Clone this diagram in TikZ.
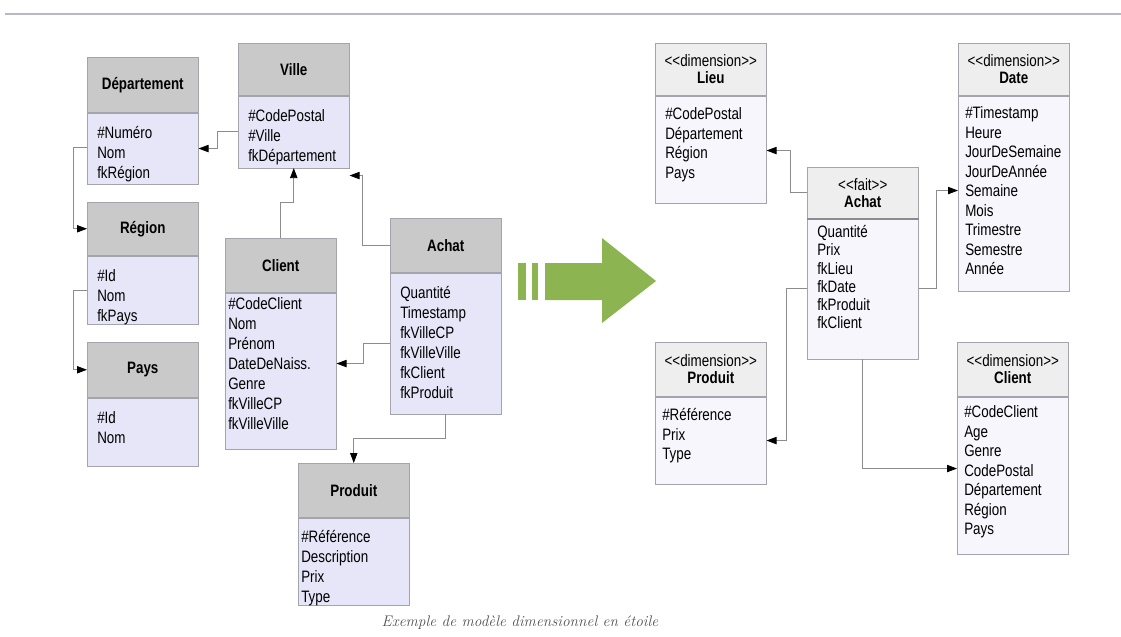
\documentclass[tikz,border=0pt]{standalone}
\usepackage{fontspec}
\newfontfamily\arialn{Liberation Sans}[FakeStretch=0.81]
\usepackage{tikz}
\usetikzlibrary{positioning,arrows.meta,calc}
\newdimen\pxu \pxu=0.75pt
\definecolor{headgray}{HTML}{C9C9C9}
\definecolor{lavbody}{HTML}{E6E6F8}
\definecolor{dimhead}{HTML}{EEEEEE}
\definecolor{dimbody}{HTML}{F6F6FC}
\definecolor{edgegray}{HTML}{A4A4AC}
\definecolor{linkgray}{HTML}{8C8C8C}
\definecolor{leaf}{HTML}{8CB450}
\definecolor{rulegray}{HTML}{B8B8C8}
\definecolor{capgray}{HTML}{505050}
\newcommand\hdfont{\arialn\bfseries\fontsize{12.4}{14}\selectfont}
\newcommand\fldfont{\arialn\fontsize{12.4}{15}\selectfont}
\newcommand\dimfont{\arialn\fontsize{12.4}{12.5}\selectfont}
\newcommand\stereo[1]{<\kern0pt<#1>\kern0pt>}
\tikzset{
  hd/.style={draw=edgegray, fill=headgray, minimum width=111\pxu, anchor=north west, inner sep=0pt, font=\hdfont},
  bd/.style={draw=edgegray, fill=lavbody, align=left, inner ysep=0pt, inner xsep=10\pxu, text width=91\pxu, font=\fldfont},
  tight/.style={inner xsep=3\pxu, text width=105\pxu},
  dimhd/.style={hd, fill=dimhead, align=center, font=\dimfont},
  dimbd/.style={bd, fill=dimbody, inner xsep=7\pxu, text width=97\pxu, font=\arialn\fontsize{12.4}{14.6}\selectfont},
  link/.style={draw=linkgray, line width=0.6pt, -{Triangle[length=7.5pt,width=5.5pt,color=black]}},
}
\begin{document}
\begin{tikzpicture}[x=0.75pt, y=-0.75pt]
  \useasboundingbox (0,0) rectangle (1121,636);
  \draw[rulegray, line width=1.5pt] (5,14) -- (1121,14);
  % relational model
  \node[hd, minimum height=55\pxu] (dephd) at (87,57) {Département};
  \node[bd, below=0pt of dephd, text height=26\pxu, text depth=45\pxu] (dep) {\#Numéro\\Nom\\fkRégion};
  \node[hd, minimum height=52\pxu] (villehd) at (238,43) {Ville};
  \node[bd, below=0pt of villehd, text height=26\pxu, text depth=46\pxu] (ville) {\#CodePostal\\\#Ville\\fkDépartement};
  \node[hd, minimum height=53\pxu] (reghd) at (87,202) {Région};
  \node[bd, below=0pt of reghd, text height=26\pxu, text depth=42\pxu] (reg) {\#Id\\Nom\\fkPays};
  \node[hd, minimum height=55\pxu] (payshd) at (87,342) {Pays};
  \node[bd, below=0pt of payshd, text height=26\pxu, text depth=42\pxu] (pays) {\#Id\\Nom};
  \node[hd, minimum height=54\pxu] (clihd) at (225,238) {Client};
  \node[bd, tight, below=0pt of clihd, text height=17\pxu, text depth=139\pxu] (cli) {\#CodeClient\\Nom\\Prénom\\DateDeNaiss.\\Genre\\fkVilleCP\\fkVilleVille};
  \node[hd, minimum height=54\pxu] (achhd) at (390,218) {Achat};
  \node[bd, below=0pt of achhd, text height=26\pxu, text depth=115\pxu] (ach) {Quantité\\Timestamp\\fkVilleCP\\fkVilleVille\\fkClient\\fkProduit};
  \node[hd, minimum height=54\pxu] (prohd) at (298,463) {Produit};
  \node[bd, tight, below=0pt of prohd, text height=25\pxu, text depth=62\pxu] (pro) {\#Référence\\Description\\Prix\\Type};
  \draw[link] ($(ville.north west)+(0,36)$) -- ++(-21,0) |- ($(dep.north east)+(0,36)$);
  \draw[link] ($(dep.north west)+(0,35)$) -- ++(-14,0) |- (reghd.west);
  \draw[link] ($(reg.north west)+(0,35)$) -- ++(-14,0) |- (payshd.west);
  \draw[link] (clihd.north) -- ++(0,-36) -| (ville.south);
  \draw[link] (achhd.west) -- ++(-28,0) |- ($(ville.north east)+(0,80)$);
  \draw[link] ($(ach.north west)+(0,71)$) -- ++(-27,0) |- ($(cli.north east)+(0,71)$);
  \draw[link] ($(ach.south west)+(55,0)$) -- ++(0,24) -| (prohd.north);
  % green arrow
  \fill[leaf] (518,263) rectangle (526,300);
  \fill[leaf] (532,263) rectangle (538,300);
  \fill[leaf] (545,263) -- (602,263) -- (602,238) -- (656,281) -- (602,323) -- (602,300) -- (545,300) -- cycle;
  % star model
  \node[dimhd, minimum height=52\pxu] (lieuhd) at (655,43) {\stereo{dimension}\\\textbf{Lieu}};
  \node[dimbd, inner xsep=10\pxu, text width=91\pxu, below=0pt of lieuhd, text height=24\pxu, text depth=83\pxu] (lieu) {\#CodePostal\\Département\\Région\\Pays};
  \node[dimhd, minimum height=52\pxu] (datehd) at (958,43) {\stereo{dimension}\\\textbf{Date}};
  \node[dimbd, below=0pt of datehd, text height=23\pxu, text depth=172\pxu] (date) {\#Timestamp\\Heure\\JourDeSemaine\\JourDeAnnée\\Semaine\\Mois\\Trimestre\\Semestre\\Année};
  \node[dimhd, minimum height=51\pxu] (facthd) at (807,167) {\stereo{fait}\\\textbf{Achat}};
  \node[dimbd, inner xsep=10\pxu, text width=91\pxu, below=0pt of facthd, text height=19\pxu, text depth=121\pxu, font=\arialn\fontsize{12.4}{13.6}\selectfont] (fact) {Quantité\\Prix\\fkLieu\\fkDate\\fkProduit\\fkClient};
  \draw[linkgray, line width=1.5pt] (facthd.south west) -- (facthd.south east);
  \node[dimhd, minimum height=54\pxu] (dprohd) at (655,342) {\stereo{dimension}\\\textbf{Produit}};
  \node[dimbd, below=0pt of dprohd, text height=24\pxu, text depth=63\pxu] (dpro) {\#Référence\\Prix\\Type};
  \node[dimhd, minimum height=54\pxu] (dclihd) at (957,342) {\stereo{dimension}\\\textbf{Client}};
  \node[dimbd, below=0pt of dclihd, text height=21\pxu, text depth=136\pxu] (dcli) {\#CodeClient\\Age\\Genre\\CodePostal\\Département\\Région\\Pays};
  \draw[link] (facthd.west) -- ++(-17,0) |- ($(lieu.north east)+(0,55)$);
  \draw[link] ($(fact.north east)+(0,70)$) -- ++(18,0) |- ($(date.north west)+(0,95)$);
  \draw[link] ($(fact.north west)+(0,70)$) -- ++(-21,0) |- ($(dpro.north east)+(0,44)$);
  \draw[link] ($(fact.south west)+(55,0)$) |- ($(dcli.north west)+(0,72)$);
  \node[font=\itshape\fontsize{11.5}{14}\selectfont, text=capgray, anchor=base west] (cap) at (377,626) {Exemple de modèle dimensionnel en étoile};
\end{tikzpicture}
\end{document}
